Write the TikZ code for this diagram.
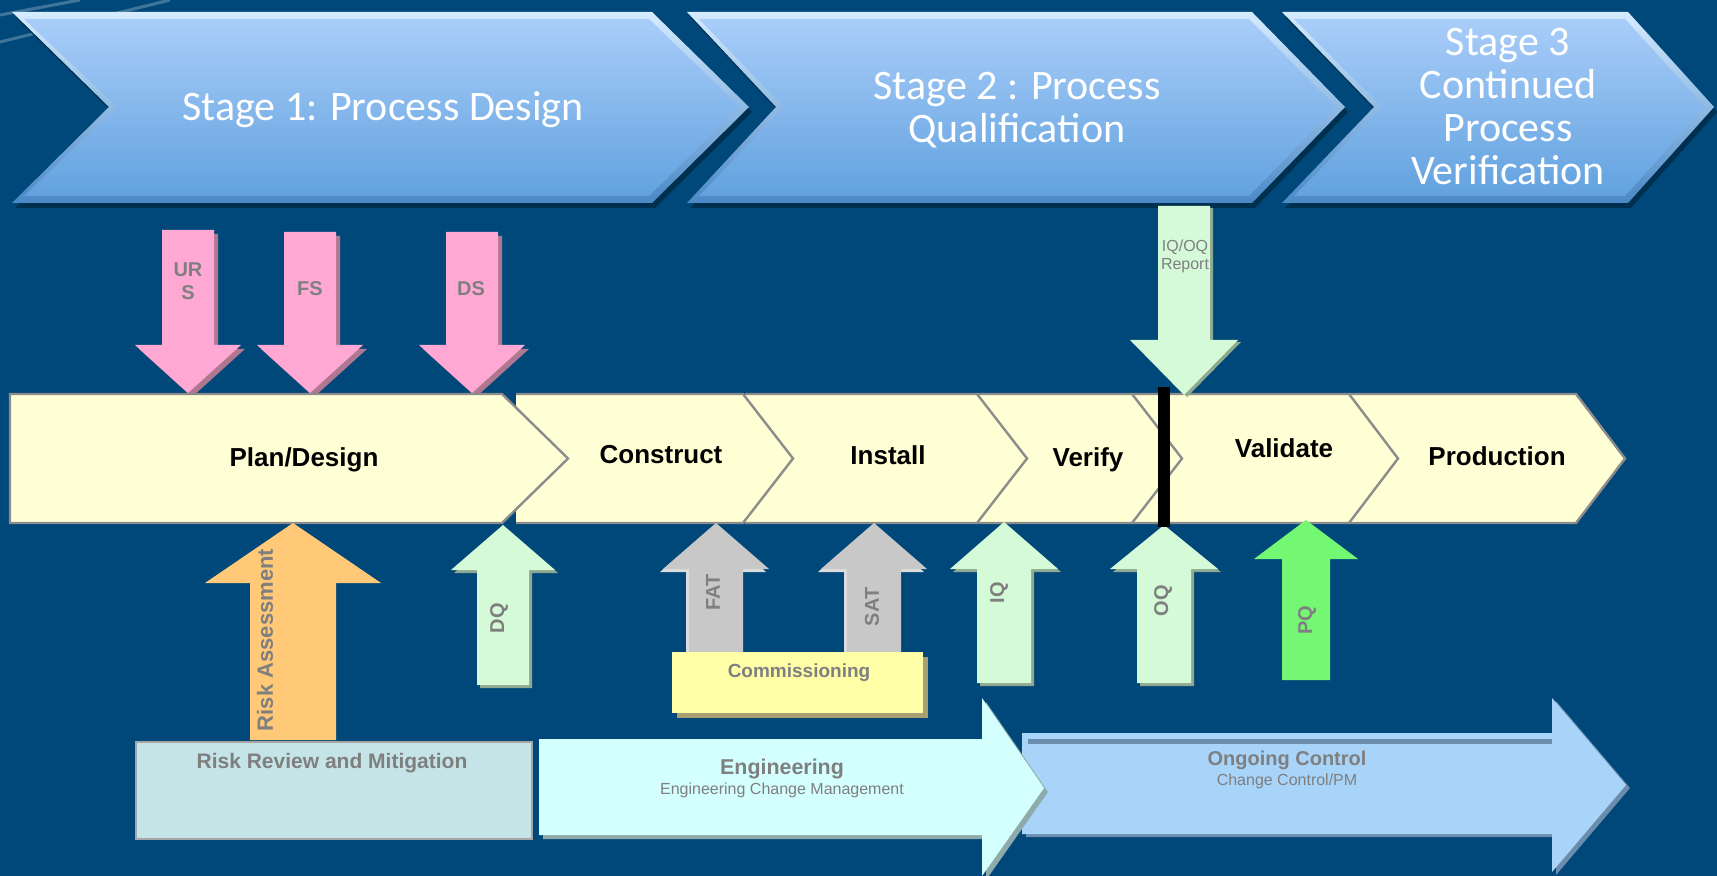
\documentclass[tikz,border=0pt]{standalone}
\usepackage{fontspec}
\setmainfont{Liberation Sans}
\newfontfamily\stagefont{Carlito}
\usetikzlibrary{calc}
\definecolor{bgblue}{RGB}{0,72,122}
\definecolor{stagehi}{HTML}{D6ECFF}
\definecolor{stagelo}{HTML}{4A88C6}
\definecolor{stagetop}{HTML}{A9CDF9}
\definecolor{stagebot}{HTML}{62A2DF}
\definecolor{stageshadow}{HTML}{00304F}
\definecolor{pinkfill}{HTML}{FFA8D4}
\definecolor{pinkshadow}{HTML}{B07890}
\definecolor{greenfill}{HTML}{D4FAD8}
\definecolor{greenshadow}{HTML}{8FA890}
\definecolor{grayfill}{HTML}{C8C8C8}
\definecolor{grayshadow}{HTML}{DCDCDC}
\definecolor{orangefill}{HTML}{FFC978}
\definecolor{pqfill}{HTML}{74F874}
\definecolor{rowfill}{HTML}{FFFFD6}
\definecolor{rowline}{HTML}{8C8C8C}
\definecolor{commfill}{HTML}{FFFFA8}
\definecolor{commshadow}{HTML}{A8A070}
\definecolor{riskfill}{HTML}{C4E4E8}
\definecolor{engfill}{HTML}{D4FFFF}
\definecolor{engshadow}{HTML}{8FAAAA}
\definecolor{ongfill}{HTML}{A8D4FA}
\definecolor{ongshadow}{HTML}{6C8CAE}
\definecolor{labelgray}{HTML}{7F7F7F}
\newcommand\BlockArrow[7]{\fill[#1] (#2,#3) -- ({#2+#4},#6) -- ({#2+#5},#6) -- ({#2+#5},#7) -- ({#2-#5},#7) -- ({#2-#5},#6) -- ({#2-#4},#6) -- cycle;}
\newcommand\StageChev[4]{%
  \fill[stageshadow, shift={(3,5)}] (#1,12) -- (#3,12) -- (#4,107) -- (#3,203) -- (#1,203) -- (#2,107) -- cycle;
  \shade[top color=stagehi, bottom color=stagelo] (#1,12) -- (#3,12) -- (#4,107) -- (#3,203) -- (#1,203) -- (#2,107) -- cycle;
  \shade[top color=stagetop, bottom color=stagebot] ({#1+12},19) -- ({#3-3},19) -- ({#4-9},107) -- ({#3-3},196) -- ({#1+12},196) -- ({#2+8},107) -- cycle;}
\newcommand\RowChev[3]{\filldraw[rowbox] (#1,394) -- (#2,394) -- (#3,458.5) -- (#2,523) -- (#1,523);}
\begin{document}
\begin{tikzpicture}[x=0.5pt,y=-0.5pt,
  stagetext/.style={text=white, align=center, font=\stagefont\fontsize{21}{21.5}\selectfont},
  rowbox/.style={fill=rowfill, draw=rowline, line width=1.2pt, line join=miter},
  rowtext/.style={font=\bfseries\fontsize{13}{15}\selectfont, text=black},
  arrowlabel/.style={font=\bfseries\fontsize{10}{11.5}\selectfont, text=labelgray, align=center},
  sidelabel/.style={arrowlabel, rotate=90},
  boxtitle/.style={font=\bfseries\fontsize{10.5}{12}\selectfont, text=labelgray},
  boxsub/.style={font=\fontsize{8}{9}\selectfont, text=labelgray}]
\fill[bgblue] (0,0) rectangle (1717,876);
\useasboundingbox (0,0) rectangle (1717,876);
% faint streaks
\draw[white, opacity=0.25, line width=1.5pt] (0,15) -- (80,0);
\draw[white, opacity=0.25, line width=1.5pt] (0,42) -- (170,0);
% stage chevrons
\StageChev{12}{109}{652}{749}
\StageChev{687}{776}{1252}{1345}
\StageChev{1282}{1374}{1628}{1714}
\node[stagetext] (s1) at (383,110) {Stage 1: Process Design};
\node[stagetext] (s2) at (1017,110) {Stage 2 : Process\\Qualification};
\node[stagetext] (s3) at (1508,107) {Stage 3\\Continued\\Process\\Verification};
% pink arrows
\BlockArrow{pinkshadow, shift={(4,4)}}{188}{393}{53}{26}{345}{230}
\BlockArrow{pinkfill}{188}{393}{53}{26}{345}{230}
\BlockArrow{pinkshadow, shift={(4,4)}}{310}{393}{53}{26}{345}{232}
\BlockArrow{pinkfill}{310}{393}{53}{26}{345}{232}
\BlockArrow{pinkshadow, shift={(4,4)}}{472}{393}{53}{26}{345}{232}
\BlockArrow{pinkfill}{472}{393}{53}{26}{345}{232}
\node[arrowlabel] (urs) at (188,281) {UR\\S};
\node[arrowlabel] (fs) at (310,289) {FS};
\node[arrowlabel] (ds) at (471,289) {DS};
% process row
\RowChev{1349}{1576}{1625}
\RowChev{1132}{1349}{1398}
\RowChev{978}{1132}{1182}
\RowChev{745}{977}{1027}
\RowChev{516}{743}{793}
\filldraw[rowbox] (10,394) -- (502,394) -- (568,458.5) -- (502,523) -- (10,523) -- cycle;
\node[rowtext] (plan) at (304,460) {Plan/Design};
\node[rowtext] (construct) at (661,455) {Construct};
\node[rowtext] (install) at (888,455) {Install};
\node[rowtext] (verify) at (1088,460) {Verify};
\node[rowtext] (validate) at (1284,448) {Validate};
\node[rowtext] (production) at (1497,456) {Production};
% IQ/OQ report arrow
\BlockArrow{greenshadow, shift={(3,2)}}{1184}{395}{54}{26}{340}{206}
\BlockArrow{greenfill}{1184}{395}{54}{26}{340}{206}
\node[font=\fontsize{8}{9}\selectfont, text=labelgray, align=center] (report) at (1185,256) {IQ/OQ\\Report};
% up arrows
\BlockArrow{orangefill}{293}{523}{88}{43}{583}{740}
\node[sidelabel, font=\bfseries\fontsize{11}{12}\selectfont] (risk) at (265,640) {Risk Assessment};
\BlockArrow{greenshadow, shift={(3,3)}}{503}{525}{52}{26}{570}{685}
\BlockArrow{greenfill}{503}{525}{52}{26}{570}{685}
\node[sidelabel] (dq) at (499,618) {DQ};
\BlockArrow{grayshadow, shift={(-3,3)}}{716}{523}{53}{27}{569}{660}
\BlockArrow{grayfill}{716}{523}{53}{27}{569}{660}
\node[sidelabel] (fat) at (713,592) {FAT};
\BlockArrow{grayshadow, shift={(-3,3)}}{874}{523}{53}{27}{569}{660}
\BlockArrow{grayfill}{874}{523}{53}{27}{569}{660}
\node[sidelabel] (sat) at (872,607) {SAT};
\BlockArrow{greenshadow, shift={(3,3)}}{1004}{522}{54}{27}{569}{683}
\BlockArrow{greenfill}{1004}{522}{54}{27}{569}{683}
\node[sidelabel] (iq) at (999,593) {IQ};
\BlockArrow{greenshadow, shift={(3,3)}}{1164}{525}{54}{27}{569}{683}
\BlockArrow{greenfill}{1164}{525}{54}{27}{569}{683}
\node[sidelabel] (oq) at (1163,601) {OQ};
\BlockArrow{pqfill}{1306}{520}{52}{24}{559}{680}
\node[sidelabel] (pq) at (1307,620) {PQ};
% verification bar
\fill[black] (1158,387) rectangle (1170,527);
% commissioning
\fill[commshadow] (677,657) rectangle (928,718);
\fill[commfill] (672,652) rectangle (923,713);
\node[arrowlabel, font=\bfseries\fontsize{9.5}{11}\selectfont] (comm) at (799,673) {Commissioning};
% risk review box
\filldraw[fill=riskfill, draw=gray!70, line width=1pt] (136,742) rectangle (532,839);
\node[boxtitle] (rr) at (332,763) {Risk Review and Mitigation};
% ongoing control arrow
\fill[ongshadow, shift={(4,3)}] (1022,733) -- (1552,733) -- (1552,698) -- (1626,785) -- (1552,872) -- (1552,834) -- (1022,834) -- cycle;
\fill[ongfill] (1022,733) -- (1552,733) -- (1552,698) -- (1626,785) -- (1552,872) -- (1552,834) -- (1022,834) -- cycle;
\fill[ongshadow] (1028,739) rectangle (1552,744);
\node[boxtitle, font=\bfseries\fontsize{10}{12}\selectfont] (ong) at (1287,760) {Ongoing Control};
\node[boxsub] (ongsub) at (1287,781) {Change Control/PM};
% engineering arrow
\fill[engshadow, shift={(4,4)}] (539,739) -- (982,739) -- (982,698) -- (1044,788) -- (982,876) -- (982,835) -- (539,835) -- cycle;
\fill[engfill] (539,739) -- (982,739) -- (982,698) -- (1044,788) -- (982,876) -- (982,835) -- (539,835) -- cycle;
\node[boxtitle, font=\bfseries\fontsize{10.7}{12}\selectfont] (eng) at (782,769) {Engineering};
\node[boxsub] (engsub) at (782,790) {Engineering Change Management};
\end{tikzpicture}
\end{document}
